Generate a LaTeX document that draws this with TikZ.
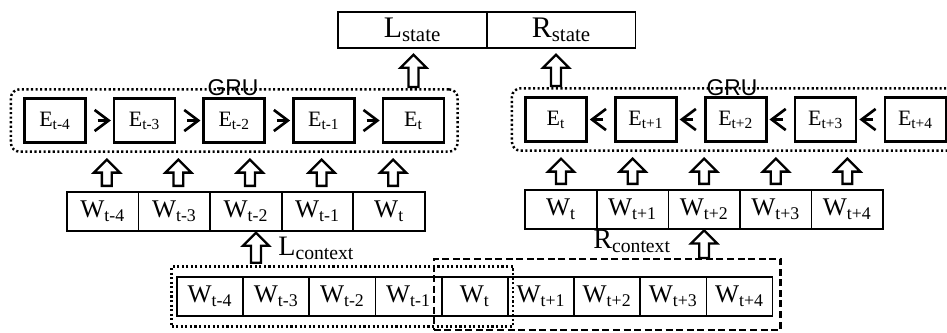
\documentclass[tikz,border=0pt]{standalone}
\usepackage{fontspec}
\setmainfont{Liberation Serif}
\newfontfamily\grufont{Liberation Sans}
\usetikzlibrary{positioning,fit,calc,arrows.meta}

\begin{document}
\begin{tikzpicture}[x=0.02cm, y=-0.02cm,
  ebox/.style={rectangle, draw, line width=1.5pt, minimum width=1.22cm,
               minimum height=0.88cm, inner sep=0pt,
               font=\fontsize{12.5}{14}\selectfont},
  wcell/.style={rectangle, draw, line width=1pt, minimum width=#1,
                minimum height=0.78cm, inner sep=0pt, outer sep=0pt,
                font=\fontsize{14.5}{16}\selectfont},
  sbox/.style={rectangle, draw, line width=0.6pt, minimum width=2.98cm,
               minimum height=0.72cm, inner sep=0pt, outer sep=0pt,
               font=\fontsize{17}{19}\selectfont},
  grubox/.style={draw, line width=1.4pt, rounded corners=5pt,
                 dash pattern=on 1.2pt off 1.4pt, inner ysep=4.5pt},
  ctxbox/.style={draw, line width=1.3pt, #1},
  lbl/.style={font=\fontsize{16}{18}\selectfont, inner sep=0pt},
  grulbl/.style={font=\grufont\fontsize{13}{15}\selectfont, inner sep=0pt},
  chev/.style={-{Straight Barb[length=8pt, width=12pt, line width=1.5pt]},
               line width=1.5pt, shorten <=6.2pt, shorten >=1.1pt},
  blockup/.style 2 args={draw, line width=1.3pt, fill=white, to path={
    let \p1=(\tikztostart), \p2=(\tikztotarget) in
    (\x1-2.8pt,\y1+#1) -- (\x1-2.8pt,\y2-#2-7.4pt) -- (\x1-7.4pt,\y2-#2-7.4pt)
    -- (\x1,\y2-#2) -- (\x1+7.4pt,\y2-#2-7.4pt) -- (\x1+2.8pt,\y2-#2-7.4pt)
    -- (\x1+2.8pt,\y1+#1) -- cycle}}
]
  \useasboundingbox (0,0) rectangle (947,332);

  % output states
  \node[sbox] (Ls) at (412.5,30) {L\textsubscript{state}};
  \node[sbox, right=0pt of Ls] (Rs) {R\textsubscript{state}};

  % left GRU chain
  \node[ebox] (EL1) at (55,120.5) {E\textsubscript{t-4}};
  \foreach \s [count=\i from 2, remember=\i as \p (initially 1)] in {t-3,t-2,t-1,t}
    \node[ebox, right=0.52cm of EL\p] (EL\i) {E\textsubscript{\s}};
  \node[grubox, fit=(EL1)(EL5), inner xsep=7pt] (gruL) {};
  \node[grulbl] (gruLt) at (233,87.5) {GRU};

  % right GRU chain
  \node[ebox] (ER1) at (556,119.5) {E\textsubscript{t}};
  \foreach \s [count=\i from 2, remember=\i as \p (initially 1)] in {t+1,t+2,t+3,t+4}
    \node[ebox, right=0.525cm of ER\p] (ER\i) {E\textsubscript{\s}};
  \node[grubox, fit=(ER1)(ER5), inner xsep=7pt] (gruR) {};
  \node[grulbl] (gruRt) at (732,87.5) {GRU};

  % left and right word windows
  \node[wcell=1.432cm] (WL1) at (102.8,211.5) {W\textsubscript{t-4}};
  \foreach \s [count=\i from 2, remember=\i as \p (initially 1)] in {t-3,t-2,t-1,t}
    \node[wcell=1.432cm, right=0pt of WL\p] (WL\i) {W\textsubscript{\s}};
  \node[wcell=1.432cm] (WR1) at (561,209.5) {W\textsubscript{t}};
  \foreach \s [count=\i from 2, remember=\i as \p (initially 1)] in {t+1,t+2,t+3,t+4}
    \node[wcell=1.432cm, right=0pt of WR\p] (WR\i) {W\textsubscript{\s}};

  % sentence
  \node[wcell=1.324cm] (B1) at (210,296.5) {W\textsubscript{t-4}};
  \foreach \s [count=\i from 2, remember=\i as \p (initially 1)] in
    {t-3,t-2,t-1,t,t+1,t+2,t+3,t+4}
    \node[wcell=1.324cm, right=0pt of B\p] (B\i) {W\textsubscript{\s}};
  \node[ctxbox={dash pattern=on 1.2pt off 1.4pt}, fit=(B1)(B5),
        inner xsep=3pt, inner ysep=6pt] (ctxL) {};
  \node[ctxbox={dash pattern=on 4pt off 2pt}, fit=(B5)(B9),
        inner xsep=4.5pt, inner ysep=9pt, yshift=1.2pt] (ctxR) {};
  \node[lbl, anchor=base west] (Lc) at (278,255) {L\textsubscript{context}};
  \node[lbl, anchor=base west] (Rc) at (593,248) {R\textsubscript{context}};

  % recurrent links
  \foreach \a/\b in {EL1/EL2,EL2/EL3,EL3/EL4,EL4/EL5,
                     ER2/ER1,ER3/ER2,ER4/ER3,ER5/ER4}
    \draw[chev] (\a) -- (\b);

  % block arrows
  \foreach \i in {1,...,5} {
    \draw[blockup={3.5pt}{3.8pt}] ($(WL\i.north)+(4,0)$) to (gruL.south);
    \draw[blockup={3.5pt}{3.8pt}] (WR\i.north) to (gruR.south);
  }
  \draw[blockup={0.6pt}{3.8pt}] (EL5 |- gruL.north) to (Ls.south);
  \draw[blockup={0.6pt}{3.8pt}] (ER1 |- gruR.north) to (Rs.south);
  \draw[blockup={1.5pt}{1pt}] ($(WL3.south |- ctxL.north)+(10,0)$) to (WL3.south);
  \draw[blockup={0pt}{0.8pt}] (WR3 |- ctxR.north) to (WR3.south);
\end{tikzpicture}
\end{document}
